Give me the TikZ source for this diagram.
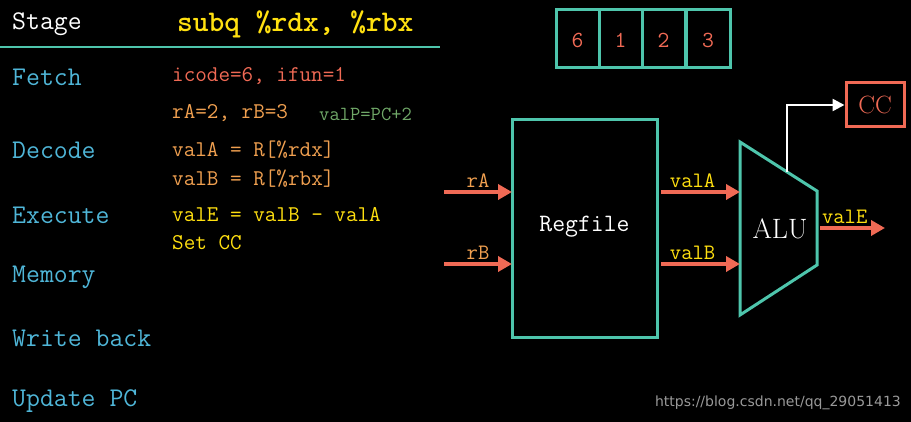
\documentclass[tikz,border=0pt]{standalone}
\usepackage{fontspec}
\newfontfamily\wm{DejaVu Sans}
\usetikzlibrary{arrows.meta}
\definecolor{teal1}{HTML}{4EC5AC}
\definecolor{cyan1}{HTML}{4FB6D8}
\definecolor{sal}{HTML}{F06A55}
\definecolor{org}{HTML}{F0A050}
\definecolor{yel}{HTML}{FFE010}
\definecolor{grn}{HTML}{70A868}
\begin{document}
\begin{tikzpicture}[x=1pt,y=-1pt,
  tt/.style={font=\ttfamily\fontsize{27}{27}\selectfont,anchor=west,inner sep=0},
  st/.style={tt,text=cyan1},
  sm/.style={tt,font=\ttfamily\fontsize{22.5}{22.5}\selectfont},
  box/.style={draw=teal1,line width=3pt},
  arr/.style={draw=sal,line width=3.5pt,-{Triangle[length=14pt,width=15pt]}},
  lab/.style={font=\ttfamily\fontsize{22}{22}\selectfont,inner sep=0,anchor=south}]
\fill[black] (0,0) rectangle (911,422);
\useasboundingbox (0,0) rectangle (911,422);
\node[tt,text=white] (stage) at (12,24) {Stage};
\node[tt,text=yel,font=\ttfamily\bfseries\fontsize{30}{30}\selectfont] (instr) at (177,24) {subq \%rdx, \%rbx};
\draw[teal1,line width=2.5pt] (0,47) -- (440,47);
\node[st] (f) at (12,77) {Fetch};
\node[st] (d) at (12,150) {Decode};
\node[st] (e) at (12,215) {Execute};
\node[st] (m) at (12,277) {Memory};
\node[st] (w) at (12,338) {Write back};
\node[st] (u) at (12,401) {Update PC};
\node[sm,text=sal] (f1) at (172,76) {icode=6, ifun=1};
\node[sm,text=org] (f2) at (172,113) {rA=2, rB=3};
\node[tt,text=grn,font=\ttfamily\fontsize{20}{20}\selectfont] (f3) at (319,114) {valP=PC+2};
\node[sm,text=org] (d1) at (172,150) {valA = R[\%rdx]};
\node[sm,text=org] (d2) at (172,179) {valB = R[\%rbx]};
\node[sm,text=yel] (e1) at (172,215) {valE = valB - valA};
\node[sm,text=yel] (e2) at (172,243) {Set CC};
% register boxes
\foreach \x/\v [count=\i] in {556/6,599/1,642/2,686/3}{
  \pgfmathsetmacro\xe{\x+(\i==4?44:43)}
  \draw[box] (\x,10) rectangle (\xe,68);
  \node[font=\ttfamily\fontsize{23}{23}\selectfont,text=sal] (r\i) at ({(\x+\xe)/2},40) {\v};
}
% regfile
\draw[box] (512,120) rectangle (657,337);
\node[font=\ttfamily\fontsize{25}{25}\selectfont,text=white] (rf) at (584.5,227) {Regfile};
\coordinate (rfa) at (512,192); \coordinate (rfb) at (512,264);
\coordinate (rfoa) at (657,192); \coordinate (rfob) at (657,264);
% ALU
\draw[box,line join=miter] (740,142) -- (817,191) -- (817,265) -- (740,315) -- cycle;
\node[font=\fontsize{28}{28}\selectfont,text=white] (alu) at (780,229) {ALU};
\coordinate (alua) at (740,192); \coordinate (alub) at (740,264);
\coordinate (aluo) at (817,228); \coordinate (alut) at (787,172);
% CC
\node[draw=sal,line width=3pt,minimum width=58pt,minimum height=44pt,inner sep=0,
  font=\fontsize{25}{25}\selectfont,text=sal] (cc) at (875,105) {CC};
% inputs
\coordinate (ia) at (444,192); \coordinate (ib) at (444,264);
\draw[arr] (ia) -- (rfa) node[lab,text=org,pos=0.5,above=3pt] {rA};
\draw[arr] (ib) -- (rfb) node[lab,text=org,pos=0.5,above=3pt] {rB};
\draw[arr] ([xshift=4pt]rfoa) -- (alua) node[lab,text=yel,pos=0.4,above=3pt] {valA};
\draw[arr] ([xshift=4pt]rfob) -- (alub) node[lab,text=yel,pos=0.4,above=3pt] {valB};
\coordinate (oe) at (885,228);
\draw[arr] ([xshift=3pt]aluo) -- (oe) node[lab,text=yel,pos=0.38,above=3pt] {valE};
\draw[white,line width=2.5pt,-{Triangle[length=12pt,width=12pt]}] (alut) |- (cc.west);
\node[font=\wm\fontsize{14}{14}\selectfont,text=gray!80,anchor=east,inner sep=0] (wmk) at (901,403) {https://blog.csdn.net/qq\_29051413};
\end{tikzpicture}
\end{document}
